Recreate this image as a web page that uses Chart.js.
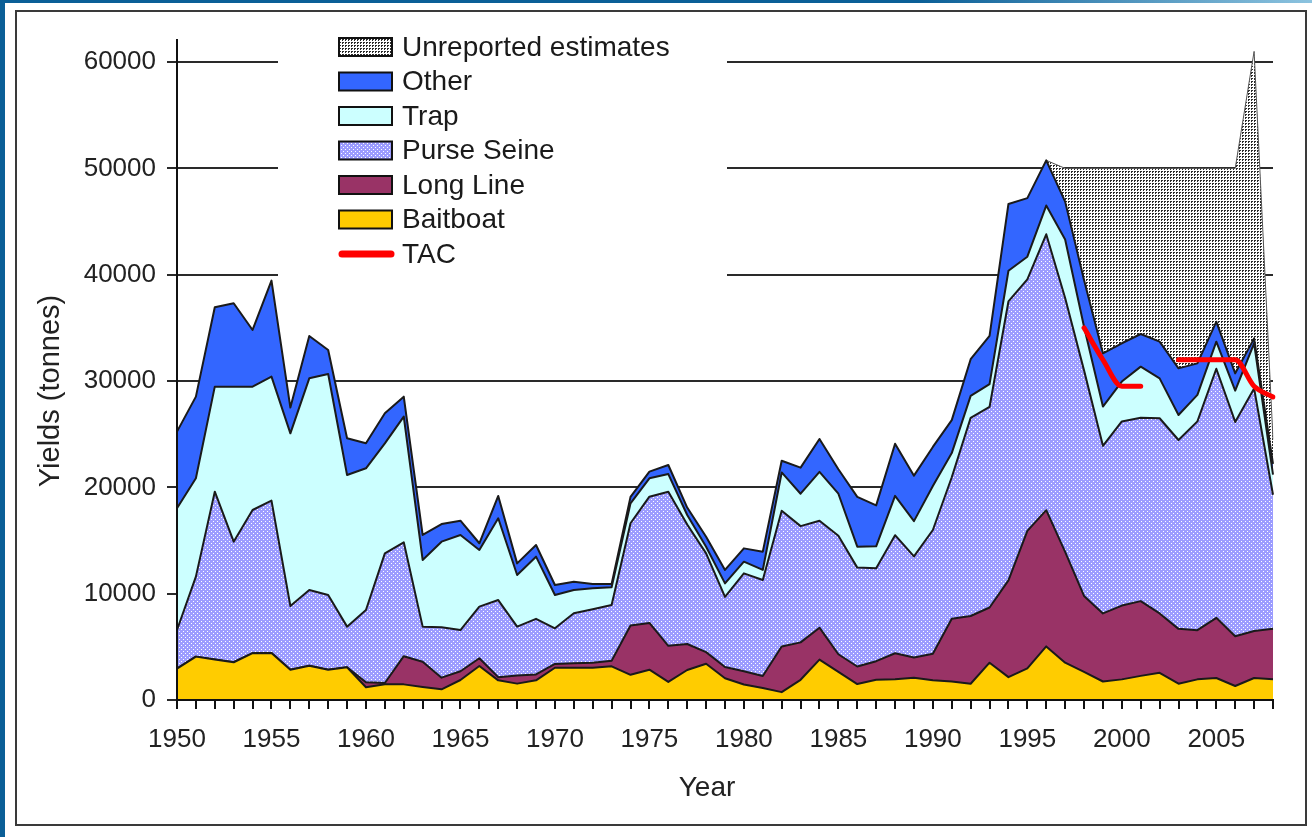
<!DOCTYPE html>
<html><head><meta charset="utf-8">
<script src="https://cdn.jsdelivr.net/npm/chart.js@4.4.1/dist/chart.umd.min.js"></script>
<style>
html,body{margin:0;padding:0;background:#fff;width:1312px;height:837px;overflow:hidden;position:relative}
#bl{position:absolute;left:0;top:0;width:5px;height:837px;background:#0b5f97}
#bt{position:absolute;left:0;top:0;width:1312px;height:3px;background:linear-gradient(to right,#0b5f97 0%,#0b5f97 70%,#8cc3df 100%)}
#box{position:absolute;left:15px;top:10px;width:1288px;height:812px;border:2px solid #3a3a3a}
canvas{position:absolute;left:0;top:0}
</style></head><body>
<div id="bl"></div><div id="bt"></div><div id="box"></div>
<canvas id="c" width="1312" height="837"></canvas>
<script>
const years = ['1950','1951','1952','1953','1954','1955','1956','1957','1958','1959',
 '1960','1961','1962','1963','1964','1965','1966','1967','1968','1969',
 '1970','1971','1972','1973','1974','1975','1976','1977','1978','1979',
 '1980','1981','1982','1983','1984','1985','1986','1987','1988','1989',
 '1990','1991','1992','1993','1994','1995','1996','1997','1998','1999',
 '2000','2001','2002','2003','2004','2005','2006','2007','2008'];

const baitboat = [2950,4080,3800,3550,4400,4430,2850,3220,2850,3070,
 1200,1480,1470,1220,1000,1880,3200,1850,1540,1850,
 3030,3030,3030,3170,2370,2850,1700,2820,3410,2050,
 1460,1130,740,1900,3800,2650,1500,1900,1950,2100,
 1860,1740,1530,3510,2150,2980,5040,3510,2640,1740,
 1940,2270,2560,1530,1940,2070,1320,2070,1940];

const longLine = [0,0,0,0,0,0,0,0,0,0,
 470,120,2650,2380,1100,820,730,300,760,550,
 360,420,480,530,4630,4400,3400,2450,1090,1050,
 1240,1120,4290,3520,3000,1650,1650,1750,2450,1900,
 2490,5910,6370,5190,9100,12920,12810,10420,7150,6400,
 6940,7030,5580,5160,4630,5660,4670,4420,4750];

const purseSeine = [3630,7520,15790,11340,13470,14320,5990,7130,7030,3830,
 6790,12190,10710,3300,4740,3880,4850,7250,4600,5230,
 3350,4700,5020,5230,9620,11870,14490,11230,9290,6600,
 9210,9040,12770,10930,10050,11150,9300,8750,11100,9500,
 11640,13300,18630,18860,26230,23650,25950,23870,21210,15760,
 17320,17250,18360,17760,19630,23420,20160,22810,12610];

const trap = [11450,9250,9880,14580,11600,11660,16240,19900,20780,14260,
 13330,10350,11820,6270,8050,8940,5330,7690,4860,5850,
 3140,2200,1970,1670,1880,1730,1660,900,630,1270,
 1100,940,3600,3050,4600,3950,1970,2050,3700,3320,
 4130,2270,2070,2150,2890,2140,2700,5500,4100,3700,
 3750,4800,3750,2350,2490,2550,2940,4240,1900];

const other = [7210,7680,7460,7840,5330,9030,2420,3980,2260,3450,
 2350,2820,1880,2350,1660,1340,630,2100,1090,1100,
 940,780,410,310,600,630,850,700,940,1260,
 1250,1720,1100,2450,3100,2300,4680,3850,4900,4280,
 3680,3100,3450,4540,6280,5510,4250,3570,4400,5000,
 3600,3070,3450,4390,2970,1880,1630,470,1000];

const unreported = [null,null,null,null,null,null,null,null,null,null,
 null,null,null,null,null,null,null,null,null,null,
 null,null,null,null,null,null,null,null,null,null,
 null,null,null,null,null,null,null,null,null,null,
 null,null,null,null,null,null,0,3130,10500,17400,
 16450,15580,16300,18810,18340,14420,19280,26990,2300];

const tac = [null,null,null,null,null,null,null,null,null,null,
 null,null,null,null,null,null,null,null,null,null,
 null,null,null,null,null,null,null,null,null,null,
 null,null,null,null,null,null,null,null,null,null,
 null,null,null,null,null,null,null,null,35000,32000,
 29500,29500,null,32000,32000,32000,32000,29500,28500];

const yTicks = [0,10000,20000,30000,40000,50000,60000];

function makePattern(bg, fg, size, pts) {
  const c = document.createElement('canvas');
  c.width = size; c.height = size;
  const g = c.getContext('2d');
  g.fillStyle = bg; g.fillRect(0,0,size,size);
  g.fillStyle = fg;
  pts.forEach(p => g.fillRect(p[0],p[1],p[2],p[3]));
  return g.createPattern(c,'repeat');
}
const psPattern = makePattern('#9c9cff','#ffffff',4,[[1,1,1,1],[3,3,1,1]]);
const unPattern = makePattern('#ffffff','#2a2a2a',3,[[0,0,2,1],[0,1,1,1]]);

const FONT = '"Liberation Sans", Arial, sans-serif';
Chart.defaults.font.family = FONT;
Chart.defaults.color = '#222';

const base = {borderColor:'#1a1a1a', borderWidth:2, pointRadius:0, pointHoverRadius:0, tension:0, borderJoinStyle:'round'};
const datasets = [
  {label:'Baitboat', data:baitboat, backgroundColor:'#ffcc00', fill:'origin'},
  {label:'Long Line', data:longLine, backgroundColor:'#993366', fill:'-1'},
  {label:'Purse Seine', data:purseSeine, backgroundColor:psPattern, fill:'-1'},
  {label:'Trap', data:trap, backgroundColor:'#ccffff', fill:'-1'},
  {label:'Other', data:other, backgroundColor:'#3366ff', fill:'-1'},
  {label:'Unreported estimates', data:unreported, backgroundColor:unPattern, fill:'-1', borderColor:'#555', borderWidth:1},
  {label:'TAC', data:tac, stack:'tac', borderColor:'#ff0000', borderWidth:5, fill:false,
   cubicInterpolationMode:'monotone', order:-1, borderCapStyle:'round'}
].map(d => Object.assign({}, base, d));

// Shifts the axis titles to where the reference places them.
const titleShift = {
  id:'titleShift',
  beforeDraw(chart){
    const ys = chart.scales.y, xs = chart.scales.x;
    if (ys && !ys._shifted) {
      ys._shifted = true;
      ys.drawTitle = function(){ const t = this.top; this.top = t + 42; Chart.Scale.prototype.drawTitle.call(this); this.top = t; };
    }
    if (xs && !xs._shifted) {
      xs._shifted = true;
      xs.drawTitle = function(){ const r = this.right; this.right = r - 36; Chart.Scale.prototype.drawTitle.call(this); this.right = r; };
    }
  }
};

const legendPlugin = {
  id:'boxLegend',
  beforeDatasetsDraw(chart){
    const {ctx, chartArea:a} = chart;
    ctx.save(); ctx.fillStyle = '#fff';
    ctx.fillRect(a.left + 101, a.top - 10, 449, 252);
    ctx.restore();
  },
  afterDatasetsDraw(chart){
    const {ctx, chartArea:a} = chart;
    const ds = chart.data.datasets;
    const order = [5,4,3,2,1,0,6];
    const x0 = a.left + 162, y0 = a.top + 7, step = 34.5;
    ctx.save();
    ctx.font = '28px ' + FONT;
    ctx.textBaseline = 'middle';
    ctx.textAlign = 'left';
    order.forEach((idx, i) => {
      const d = ds[idx];
      const cy = y0 + i*step;
      if (d.stack === 'tac') {
        ctx.strokeStyle = d.borderColor; ctx.lineWidth = 7; ctx.lineCap = 'round';
        ctx.beginPath(); ctx.moveTo(x0+3, cy); ctx.lineTo(x0+52, cy); ctx.stroke();
      } else {
        ctx.fillStyle = d.backgroundColor;
        ctx.fillRect(x0, cy-9, 53, 18);
        ctx.strokeStyle = '#111'; ctx.lineWidth = 2;
        ctx.strokeRect(x0, cy-9, 53, 18);
      }
      ctx.fillStyle = '#1a1a1a';
      ctx.fillText(d.label, x0 + 63, cy + 1);
    });
    ctx.restore();
  }
};

new Chart(document.getElementById('c'), {
  type:'line',
  data:{labels:years, datasets},
  plugins:[titleShift, legendPlugin],
  options:{
    responsive:false, animation:false,
    layout:{padding:{left:0, top:40, right:39, bottom:0}},
    plugins:{legend:{display:false}, tooltip:{enabled:false}},
    scales:{
      x:{
        type:'category', offset:false,
        afterFit(s){ s.height = 137; },
        grid:{drawOnChartArea:false, drawTicks:true, tickLength:9, color:'#111', lineWidth:2},
        border:{display:true, color:'#111', width:2, z:1},
        ticks:{autoSkip:false, maxRotation:0, minRotation:0, padding:15,
          font:{size:26}, color:'#222',
          callback(v, i){ return Number(years[i]) % 5 === 0 ? years[i] : ''; }},
        title:{display:true, text:'Year', font:{size:28}, color:'#222', padding:{top:0, bottom:32}}
      },
      y:{
        stacked:true, min:0, max:62070,
        afterFit(s){ s.width = 177; },
        afterBuildTicks(s){ s.ticks = yTicks.map(v => ({value:v})); },
        grid:{color:'#2a2a2a', lineWidth:2, tickLength:10},
        border:{display:true, color:'#111', width:2, z:1},
        ticks:{padding:11, font:{size:26}, color:'#222', callback:v => String(v)},
        title:{display:true, text:'Yields (tonnes)', font:{size:29}, color:'#222', padding:{top:34, bottom:0}}
      }
    }
  }
});
</script>
</body></html>
